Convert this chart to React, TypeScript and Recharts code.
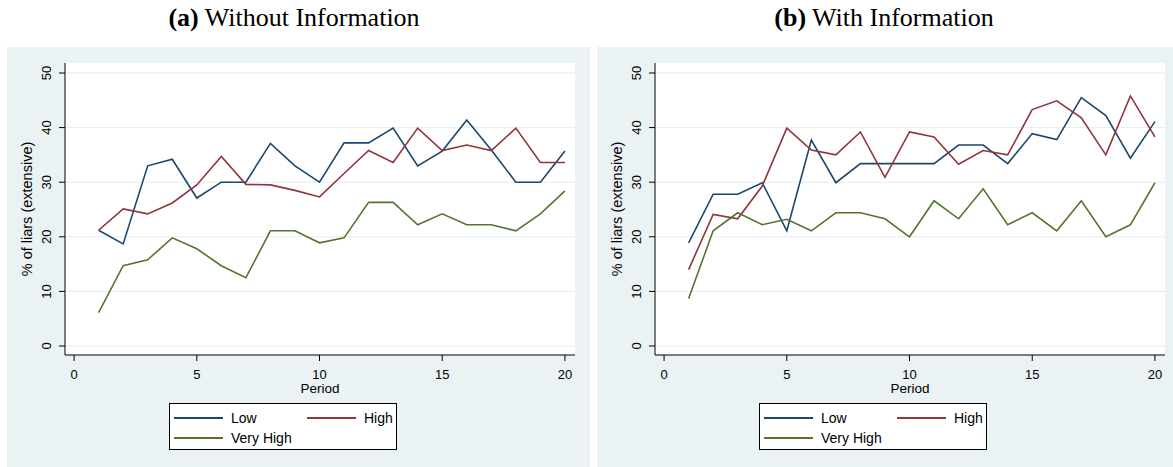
import React from 'react';
import { LineChart, Line, XAxis, YAxis, CartesianGrid } from 'recharts';

const periods = [1, 2, 3, 4, 5, 6, 7, 8, 9, 10, 11, 12, 13, 14, 15, 16, 17, 18, 19, 20];

// (a) Without Information
const lowA = [21.2, 18.7, 33.0, 34.2, 27.1, 30.0, 30.0, 37.1, 33.0, 30.0, 37.2, 37.2, 39.9, 33.0, 35.7, 41.4, 35.9, 30.0, 30.0, 35.7];
const highA = [21.2, 25.1, 24.2, 26.2, 29.5, 34.7, 29.6, 29.5, 28.5, 27.3, 31.6, 35.8, 33.6, 39.9, 35.8, 36.8, 35.8, 39.9, 33.6, 33.6];
const veryHighA = [6.1, 14.7, 15.8, 19.8, 17.8, 14.7, 12.5, 21.1, 21.1, 18.9, 19.8, 26.3, 26.3, 22.2, 24.2, 22.2, 22.2, 21.1, 24.2, 28.4];

// (b) With Information
const lowB = [18.9, 27.8, 27.8, 29.9, 21.1, 37.7, 29.9, 33.4, 33.4, 33.4, 33.4, 36.8, 36.8, 33.4, 38.9, 37.8, 45.5, 42.2, 34.4, 41.1];
const highB = [14.0, 24.1, 23.3, 29.3, 39.9, 35.9, 35.0, 39.2, 30.9, 39.2, 38.3, 33.3, 35.8, 35.0, 43.3, 44.9, 41.8, 35.0, 45.8, 38.3];
const veryHighB = [8.7, 21.1, 24.4, 22.2, 23.2, 21.1, 24.4, 24.4, 23.3, 20.0, 26.6, 23.3, 28.8, 22.2, 24.4, 21.1, 26.6, 20.0, 22.2, 29.9];

const xTicks = [0, 5, 10, 15, 20];
const yTicks = [0, 10, 20, 30, 40, 50];
const seriesNames = ['Low', 'High', 'Very High'];
const seriesColors = ['#1a476f', '#90353b', '#55752f'];
const titles = [['(a)', ' Without Information'], ['(b)', ' With Information']];

const buildRows = (low: number[], high: number[], vh: number[]) =>
  periods.map((p, i) => ({ period: p, Low: low[i], High: high[i], 'Very High': vh[i] }));

const dataA = buildRows(lowA, highA, veryHighA);
const dataB = buildRows(lowB, highB, veryHighB);

const FONT = '"Liberation Sans", Arial, sans-serif';

const YTick = (props: any) => {
  const { x, y, payload } = props;
  return (
    <text
      x={x - 6}
      y={y}
      transform={`rotate(-90, ${x - 6}, ${y})`}
      textAnchor="middle"
      fontSize={13}
      fontFamily={FONT}
      fill="#000"
    >
      {payload.value}
    </text>
  );
};

const XTick = (props: any) => {
  const { x, y, payload } = props;
  return (
    <text x={x} y={y + 16} textAnchor="middle" fontSize={13} fontFamily={FONT} fill="#000">
      {payload.value}
    </text>
  );
};

const LegendBox = () => (
  <div
    style={{
      position: 'absolute',
      left: 162,
      top: 356,
      width: 226,
      height: 45,
      border: '1px solid #000',
      background: '#fff',
      fontFamily: FONT,
      fontSize: 14,
      color: '#000',
    }}
  >
    {seriesNames.map((name, i) => {
      const col = i % 2;
      const row = Math.floor(i / 2);
      const left = col === 0 ? 4 : 137;
      const top = row === 0 ? 14 : 34;
      return (
        <div key={name} style={{ position: 'absolute', left, top: top - 9, height: 18, display: 'flex', alignItems: 'center' }}>
          <div style={{ width: 49, height: 0, borderTop: `2px solid ${seriesColors[i]}` }} />
          <span style={{ marginLeft: 8, lineHeight: '18px' }}>{name}</span>
        </div>
      );
    })}
  </div>
);

const Panel = ({ data, left }: { data: any[]; left: number }) => (
  <div style={{ position: 'absolute', left, top: 47, width: 583, height: 420, background: '#eaf2f3' }}>
    <LineChart
      width={583}
      height={420}
      data={data}
      margin={{ top: 16, right: 15, bottom: 82, left: 8 }}
    >
      <CartesianGrid vertical={false} stroke="#e4eef0" fill="#ffffff" strokeWidth={1} horizontalValues={yTicks} />
      <XAxis
        dataKey="period"
        type="number"
        domain={[-0.37, 20.41]}
        ticks={xTicks}
        height={30}
        tick={<XTick />}
        tickSize={6}
        tickLine={{ stroke: '#000' }}
        axisLine={{ stroke: '#000' }}
        allowDataOverflow
        label={{ value: 'Period', position: 'insideBottom', offset: -8, fontSize: 13.5, fontFamily: FONT, fill: '#000' }}
      />
      <YAxis
        type="number"
        domain={[-1.65, 51.83]}
        ticks={yTicks}
        width={50}
        tick={<YTick />}
        tickSize={6}
        tickLine={{ stroke: '#000' }}
        axisLine={{ stroke: '#000' }}
        allowDataOverflow
        label={{
          value: '% of liars (extensive)',
          angle: -90,
          position: 'insideLeft',
          offset: 12,
          style: { textAnchor: 'middle' },
          fontSize: 14.5,
          fontFamily: FONT,
          fill: '#000',
        }}
      />
      {seriesNames.map((name, i) => (
        <Line
          key={name}
          dataKey={name}
          type="linear"
          stroke={seriesColors[i]}
          strokeWidth={1.6}
          dot={false}
          activeDot={false}
          isAnimationActive={false}
        />
      ))}
    </LineChart>
    <LegendBox />
  </div>
);

export default function App() {
  return (
    <div style={{ position: 'absolute', left: 0, top: 0, width: 1173, height: 467, background: '#fff', overflow: 'hidden' }}>
      {titles.map((t, i) => (
        <div
          key={t[0]}
          style={{
            position: 'absolute',
            left: (i === 0 ? 294 : 884) - 200,
            top: 5,
            width: 400,
            textAlign: 'center',
            fontFamily: '"Liberation Serif", "Times New Roman", serif',
            fontSize: 26,
            lineHeight: '26px',
            color: '#000',
            whiteSpace: 'nowrap',
          }}
        >
          <b>{t[0]}</b>
          {t[1]}
        </div>
      ))}
      <Panel data={dataA} left={7} />
      <Panel data={dataB} left={597} />
    </div>
  );
}
